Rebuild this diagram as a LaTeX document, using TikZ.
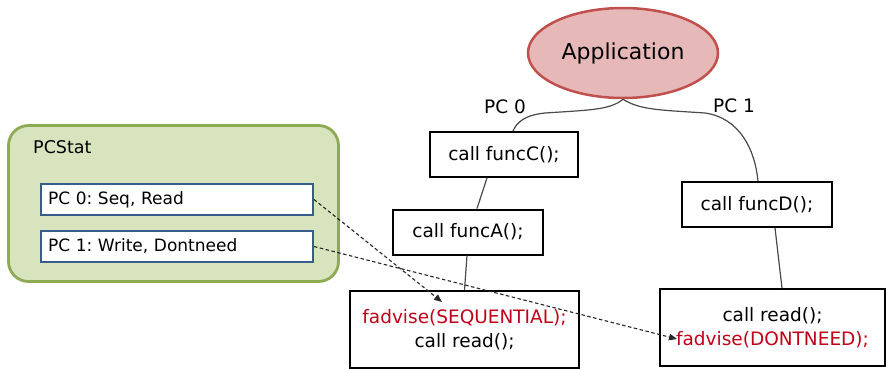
\documentclass[tikz,border=0pt]{standalone}
\usepackage{fontspec}
\setmainfont{DejaVu Sans}
\frenchspacing
\usetikzlibrary{arrows.meta,calc,shapes.geometric}
\definecolor{appfill}{HTML}{E6B9B8}
\definecolor{appline}{HTML}{C0504D}
\definecolor{grfill}{HTML}{D7E4BD}
\definecolor{grline}{HTML}{8FAA55}
\definecolor{blline}{HTML}{385D8A}
\definecolor{redtxt}{HTML}{C00018}
\definecolor{conn}{HTML}{4A4A4A}
\tikzset{
  codebox/.style={draw=black, line width=2pt, fill=white, inner sep=0pt,
    font=\fontsize{18.5}{24.5}\selectfont, align=center},
  pcbox/.style={draw=blline, line width=2pt, fill=white, inner ysep=0pt, inner xsep=7pt,
    minimum height=31pt, text width=258pt, align=left, font=\fontsize{17}{19}\selectfont},
  lbl/.style={font=\fontsize{18.5}{22}\selectfont, inner sep=0pt},
  tree/.style={draw=conn, line width=1.2pt},
  hint/.style={draw=black!85, line width=1.1pt, dash pattern=on 3.5pt off 2.5pt,
    -{Triangle[length=8pt,width=6.5pt]}}
}
\begin{document}
\begin{tikzpicture}[x=1pt,y=-1pt]
\useasboundingbox (0,0) rectangle (886,368);
% PCStat panel
\node[draw=grline, line width=2.8pt, fill=grfill, rounded corners=20pt,
  minimum width=330pt, minimum height=156pt, inner sep=0pt] (pcstat) at (173.5,203.5) {};
\node[anchor=base west, inner sep=0pt, font=\fontsize{17.5}{20}\selectfont] (pcstatlbl) at (33,153) {PCStat};
\node[pcbox] (pc0) at (177,199.5) {PC 0: Seq, Read};
\node[pcbox] (pc1) at (177,246.5) {PC 1: Write, Dontneed};
% Application
\node[ellipse, draw=appline, line width=2.5pt, fill=appfill, minimum width=190pt,
  minimum height=90pt, inner sep=0pt, font=\fontsize{22}{26}\selectfont] (app) at (623,53) {Application};
% code boxes
\node[codebox, minimum width=148pt, minimum height=45pt] (funcC) at (504,154.5) {call funcC();};
\node[codebox, minimum width=150pt, minimum height=45pt] (funcA) at (468,232) {call funcA();};
\node[codebox, minimum width=150pt, minimum height=45pt] (funcD) at (757,204.5) {call funcD();};
\node[codebox, minimum width=229pt, minimum height=77pt] (seq) at (464.5,329.5)
  {\textcolor{redtxt}{fadvise(SEQUENTIAL);}\\call read();};
\node[codebox, minimum width=225pt, minimum height=77pt] (dont) at (772.5,327.5)
  {call read();\\\textcolor{redtxt}{fadvise(DONTNEED);}};
% PC labels
\node[lbl] (pc0lbl) at (505,107) {PC 0};
\node[lbl] (pc1lbl) at (734,106) {PC 1};
% tree connectors
\draw[tree] (app.south) .. controls (610,110) and (590,110) .. (545,113)
  .. controls (525,115) and (517,122) .. ([xshift=9pt]funcC.north);
\draw[tree] (app.south) .. controls (640,110) and (660,110) .. (705,113)
  .. controls (740,118) and (755,150) .. ([xshift=1pt]funcD.north);
\draw[tree] ([xshift=-17pt]funcC.south) -- ([xshift=9pt]funcA.north);
\draw[tree] ([xshift=-1pt]funcA.south) -- (seq.north);
\draw[tree] ([xshift=18pt]funcD.south) -- ([xshift=9.5pt]dont.north);
% hint arrows
\coordinate (seqtip) at (442,302);
\coordinate (donttip) at (677,339);
\draw[hint] (pc0.east) -- (seqtip);
\draw[hint] (pc1.east) -- (donttip);
\end{tikzpicture}
\end{document}
